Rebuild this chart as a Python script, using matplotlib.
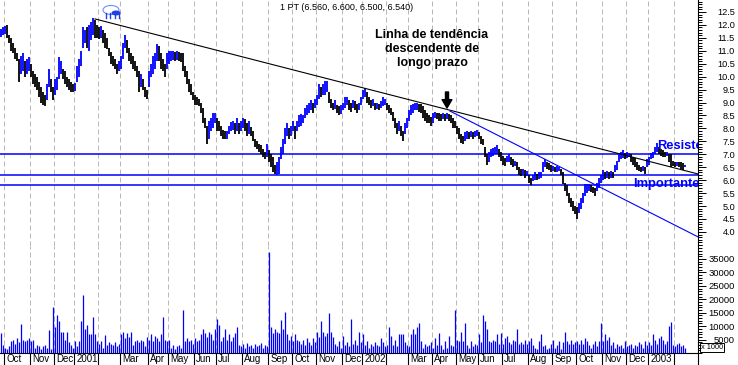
import matplotlib
matplotlib.use('Agg')
import matplotlib.pyplot as plt
import matplotlib.transforms as mtransforms
from matplotlib.lines import Line2D
from matplotlib.patches import Ellipse
from matplotlib.ticker import MultipleLocator, FixedLocator
import numpy as np

plt.rcParams['font.family'] = ['Liberation Sans', 'DejaVu Sans']

# barras de preço (mínimo / máximo), uma barra a cada ~2 pregões
lows = [
    11.55, 11.6, 11.65, 11.5, 11.3, 11.0, 10.9, 10.7, 10.6, 9.8,
    10.1, 10.2, 10.0, 10.1, 10.2, 10.0, 9.7, 9.6, 9.5, 9.2,
    9.0, 8.9, 8.85, 9.1, 9.6, 9.4, 9.1, 9.3, 9.5, 9.9,
    10.1, 9.9, 9.7, 9.6, 9.5, 9.4, 9.4, 9.45, 9.8, 10.0,
    10.4, 11.1, 11.3, 11.1, 11.0, 11.4, 11.6, 11.5, 11.5, 11.45,
    11.5, 11.3, 11.1, 11.05, 10.8, 10.5, 10.4, 10.3, 10.1, 10.2,
    10.3, 10.7, 11.1, 10.9, 10.6, 10.5, 10.3, 10.2, 10.0, 9.4,
    9.6, 9.5, 9.2, 9.15, 9.6, 10.0, 10.1, 10.3, 10.6, 10.6,
    10.3, 10.2, 10.0, 10.3, 10.5, 10.6, 10.65, 10.6, 10.65, 10.6,
    10.55, 10.2, 10.0, 9.7, 9.4, 9.3, 9.1, 8.9, 8.9, 8.85,
    8.6, 8.2, 8.0, 7.4, 7.6, 7.9, 8.0, 8.2, 7.9, 7.9,
    7.7, 7.6, 7.6, 7.6, 7.8, 7.9, 7.95, 7.8, 7.9, 7.8,
    7.9, 8.0, 7.9, 7.7, 7.8, 7.7, 7.5, 7.3, 7.2, 7.1,
    7.0, 6.9, 6.8, 6.9, 6.7, 6.5, 6.3, 6.25, 6.2, 6.25,
    6.8, 7.0, 7.4, 7.7, 7.6, 7.7, 7.9, 7.6, 7.9, 8.05,
    8.1, 8.2, 8.4, 8.5, 8.6, 8.7, 8.6, 8.8, 8.9, 9.15,
    9.2, 9.3, 9.3, 9.4, 9.0, 8.8, 8.7, 8.75, 8.6, 8.5,
    8.55, 8.7, 8.8, 8.9, 8.7, 8.65, 8.8, 8.7, 8.6, 8.7,
    8.9, 9.15, 9.2, 9.0, 8.9, 8.8, 8.85, 8.7, 8.75, 8.7,
    8.8, 8.85, 8.9, 8.7, 8.6, 8.5, 8.3, 8.0, 7.8, 7.9,
    7.7, 7.5, 7.8, 8.0, 8.3, 8.5, 8.6, 8.7, 8.7, 8.65,
    8.6, 8.4, 8.3, 8.2, 8.2, 8.1, 8.2, 8.4, 8.35, 8.3,
    8.3, 8.35, 8.3, 8.35, 8.3, 8.2, 8.0, 8.0, 7.8, 7.6,
    7.45, 7.4, 7.5, 7.6, 7.6, 7.65, 7.6, 7.65, 7.7, 7.6,
    7.4, 7.35, 6.9, 6.6, 6.7, 6.9, 6.95, 7.0, 7.0, 6.9,
    6.75, 6.6, 6.55, 6.7, 6.7, 6.6, 6.5, 6.55, 6.4, 6.2,
    6.15, 6.2, 6.1, 6.15, 5.9, 5.8, 5.95, 6.0, 6.0, 6.05,
    6.1, 6.3, 6.5, 6.45, 6.4, 6.3, 6.35, 6.3, 6.3, 6.35,
    6.2, 5.85, 5.6, 5.4, 5.1, 4.95, 4.8, 4.7, 4.5, 4.75,
    4.9, 5.1, 5.4, 5.5, 5.6, 5.55, 5.5, 5.4, 5.6, 5.7,
    5.9, 6.0, 6.05, 6.1, 6.05, 6.1, 6.1, 6.3, 6.4, 6.7,
    6.8, 6.85, 6.8, 6.85, 6.9, 6.7, 6.6, 6.5, 6.4, 6.35,
    6.3, 6.35, 6.25, 6.5, 6.6, 6.8, 6.85, 7.0, 7.1, 7.0,
    6.95, 6.9, 6.9, 6.95, 6.7, 6.5, 6.55, 6.5, 6.55, 6.5,
    6.45, 6.4, 6.5,
]
highs = [
    11.85, 11.9, 11.95, 12.0, 11.6, 11.5, 11.3, 11.1, 10.9, 10.7,
    10.8, 10.9, 10.6, 10.7, 10.75, 10.5, 10.2, 10.1, 10.0, 9.8,
    9.6, 9.4, 9.3, 9.7, 10.3, 9.9, 9.6, 9.9, 10.0, 10.75,
    10.6, 10.3, 10.2, 10.0, 9.9, 9.8, 9.7, 9.75, 10.4, 10.7,
    11.0, 11.9, 11.8, 11.9, 12.0, 12.1, 12.25, 12.2, 12.0, 11.9,
    11.95, 11.8, 11.7, 11.5, 11.1, 10.95, 10.8, 10.7, 10.5, 10.6,
    10.8, 11.3, 11.6, 11.4, 11.1, 10.9, 10.8, 10.6, 10.4, 10.2,
    10.1, 9.9, 9.6, 9.5, 10.2, 10.5, 10.8, 10.9, 11.25, 11.2,
    10.9, 10.7, 10.5, 10.9, 11.0, 11.0, 11.0, 10.95, 11.0, 10.95,
    10.9, 10.9, 10.4, 10.2, 9.9, 9.7, 9.4, 9.3, 9.2, 9.15,
    9.0, 8.8, 8.4, 8.1, 8.3, 8.4, 8.6, 8.6, 8.4, 8.3,
    8.1, 7.95, 7.9, 7.9, 8.1, 8.25, 8.3, 8.2, 8.4, 8.2,
    8.3, 8.4, 8.35, 8.2, 8.3, 8.05, 7.9, 7.6, 7.5, 7.4,
    7.35, 7.2, 7.1, 7.4, 7.15, 7.0, 6.9, 6.6, 6.7, 6.9,
    7.3, 7.6, 8.0, 8.2, 8.0, 8.1, 8.3, 8.1, 8.3, 8.5,
    8.55, 8.5, 8.8, 8.9, 9.0, 9.1, 9.0, 9.15, 9.3, 9.7,
    9.6, 9.7, 9.85, 9.85, 9.4, 9.15, 9.0, 9.1, 8.9, 8.85,
    8.9, 9.0, 9.2, 9.2, 9.1, 9.0, 9.1, 9.05, 8.95, 9.0,
    9.2, 9.5, 9.55, 9.4, 9.2, 9.1, 9.15, 9.0, 9.0, 8.95,
    9.05, 9.2, 9.15, 9.0, 8.9, 8.8, 8.65, 8.4, 8.2, 8.3,
    8.1, 7.9, 8.2, 8.4, 8.7, 8.9, 8.95, 9.0, 9.0, 8.95,
    8.95, 8.85, 8.7, 8.6, 8.5, 8.45, 8.6, 8.65, 8.6, 8.6,
    8.55, 8.6, 8.55, 8.6, 8.55, 8.5, 8.4, 8.3, 8.1, 8.0,
    7.8, 7.7, 7.85, 7.9, 7.85, 7.9, 7.85, 7.9, 7.95, 7.85,
    7.7, 7.6, 7.3, 7.0, 7.1, 7.2, 7.25, 7.3, 7.35, 7.2,
    7.1, 6.95, 6.85, 6.95, 7.0, 6.9, 6.8, 6.75, 6.7, 6.5,
    6.45, 6.45, 6.4, 6.35, 6.2, 6.1, 6.2, 6.3, 6.25, 6.3,
    6.3, 6.7, 6.8, 6.7, 6.65, 6.6, 6.55, 6.5, 6.55, 6.5,
    6.45, 6.3, 5.9, 5.8, 5.5, 5.3, 5.2, 5.0, 4.95, 5.1,
    5.3, 5.5, 5.85, 5.85, 5.85, 5.8, 5.75, 5.7, 5.9, 6.1,
    6.2, 6.4, 6.3, 6.35, 6.3, 6.35, 6.3, 6.6, 6.75, 7.0,
    7.1, 7.15, 7.05, 7.1, 7.05, 7.0, 6.9, 6.85, 6.7, 6.6,
    6.5, 6.55, 6.5, 6.8, 6.9, 7.05, 7.1, 7.3, 7.45, 7.3,
    7.2, 7.15, 7.1, 7.1, 7.0, 7.0, 6.75, 6.7, 6.7, 6.7,
    6.7, 6.65, 6.6,
]
# volume em milhares
volume_k = [
    7.5, 3.0, 2.0, 1.5, 2.5, 4.5, 5.0, 3.5, 5.7, 4.0,
    10.9, 5.0, 4.5, 5.0, 5.7, 4.5, 5.0, 2.0, 3.0, 2.5,
    1.5, 2.5, 3.0, 2.0, 8.5, 1.5, 17.0, 9.6, 14.0, 11.9,
    7.9, 7.9, 5.0, 7.9, 4.0, 3.0, 2.0, 4.4, 2.5, 4.4,
    12.0, 21.5, 8.8, 10.6, 7.0, 7.0, 13.3, 7.0, 4.4, 3.5,
    4.4, 2.0, 6.7, 3.0, 4.0, 3.5, 3.0, 4.0, 2.5, 3.5,
    7.0, 8.0, 5.5, 7.5, 6.0, 8.0, 3.0, 4.5, 5.0, 4.0,
    5.0, 4.5, 2.5, 6.0, 5.0, 7.0, 4.5, 6.5, 5.5, 4.5,
    7.0, 13.3, 5.0, 4.5, 5.0, 2.0, 3.0, 1.5, 2.5, 3.0,
    2.0, 16.0, 4.5, 5.7, 4.5, 5.0, 3.5, 5.7, 4.5, 5.0,
    7.0, 8.8, 7.5, 6.0, 8.0, 7.0, 5.0, 8.8, 12.6, 10.6,
    4.5, 6.0, 8.8, 5.0, 7.0, 4.5, 6.0, 7.5, 9.6, 3.0,
    2.5, 3.5, 2.0, 3.8, 2.5, 3.0, 2.0, 3.5, 2.5, 3.0,
    3.8, 2.0, 3.0, 2.5, 37.4, 9.6, 7.5, 9.0, 8.0, 7.5,
    12.2, 9.0, 15.2, 7.0, 5.0, 6.5, 4.5, 7.0, 5.0, 4.5,
    3.5, 5.0, 3.0, 5.7, 4.0, 3.0, 5.5, 4.0, 8.0, 6.0,
    11.9, 8.0, 6.5, 7.5, 14.8, 8.0, 6.0, 3.5, 2.5, 4.4,
    2.0, 6.5, 3.0, 4.0, 2.5, 12.6, 3.5, 5.0, 3.0, 8.0,
    4.0, 7.0, 3.0, 4.4, 2.0, 3.5, 2.5, 4.0, 3.0, 2.5,
    5.7, 4.0, 2.5, 3.0, 9.6, 6.5, 3.0, 5.0, 2.5, 7.0,
    7.0, 7.0, 4.0, 3.0, 2.5, 7.0, 8.8, 7.0, 9.6, 11.2,
    4.4, 2.0, 3.5, 2.5, 3.0, 4.0, 2.0, 5.7, 3.0, 7.5,
    3.0, 1.5, 4.4, 2.0, 6.5, 3.0, 2.5, 16.0, 5.0, 4.5,
    8.0, 4.5, 11.2, 3.0, 2.0, 4.4, 2.5, 3.5, 3.0, 7.0,
    4.0, 14.0, 11.9, 9.0, 4.5, 4.0, 5.0, 4.5, 7.2, 3.5,
    7.5, 3.2, 5.5, 6.3, 4.0, 3.5, 5.0, 4.4, 9.1, 3.5,
    4.0, 3.2, 5.0, 3.5, 4.5, 5.7, 3.0, 2.0, 1.5, 4.4,
    7.2, 2.5, 3.0, 1.5, 2.0, 3.5, 5.0, 2.0, 3.0, 4.4,
    1.5, 4.0, 7.9, 4.5, 3.5, 5.0, 3.2, 4.0, 4.5, 3.5,
    5.0, 3.5, 5.4, 4.4, 3.0, 2.0, 3.5, 4.4, 2.5, 4.4,
    11.2, 4.5, 7.2, 5.0, 6.0, 3.0, 4.0, 2.0, 3.5, 2.5,
    3.0, 2.0, 4.4, 2.5, 3.0, 3.5, 2.0, 3.0, 2.5, 4.0,
    3.5, 2.0, 4.4, 3.0, 4.0, 3.0, 7.0, 5.0, 3.2, 5.7,
    6.3, 5.0, 3.5, 4.5, 10.0, 11.6, 3.0, 2.5, 3.2, 3.8,
    2.5, 3.0, 2.0,
]

# início de cada mês (índice da barra) e rótulos do eixo
month_starts = [2, 15, 27, 37, 49, 60, 74, 84, 97, 108, 121, 134, 146, 158, 171,
                181, 193, 204, 216, 228, 239, 251, 264, 276, 288, 301, 313, 324, 337]
month_labels = ['Oct', 'Nov', 'Dec', '2001', '', 'Mar', 'Apr', 'May', 'Jun', 'Jul',
                'Aug', 'Sep', 'Oct', 'Nov', 'Dec', '2002', '', 'Mar', 'Apr', 'May',
                'Jun', 'Jul', 'Aug', 'Sep', 'Oct', 'Nov', 'Dec', '2003', '']

levels = [7.0, 6.2, 5.8]                       # suportes / resistências
long_trend = ([47, 348.5], [12.23, 6.24])      # linha de tendência de longo prazo
short_trend = ([224.5, 348.5], [8.67, 3.81])   # linha de tendência azul

BLUE = '#0000ff'
W, H = 738, 365


def fx(px):
    return px / W


def fy(py):
    return 1 - py / H


fig = plt.figure(figsize=(W / 100, H / 100), dpi=100)
ax = fig.add_axes([0, fy(245.5), fx(698), 245.5 / H])
axv = fig.add_axes([0, fy(353), fx(698), (353 - 245.5) / H])

idx = np.arange(len(lows))
lo = np.array(lows)
hi = np.array(highs)
mid = (lo + hi) / 2
up = np.concatenate([[True], mid[1:] >= mid[:-1]])
colors = np.where(up, BLUE, 'black')

for a in (ax, axv):
    a.set_xlim(-0.5, 348.5)
    for s in ('left', 'top'):
        a.spines[s].set_visible(False)
    a.spines['right'].set_linewidth(0.8)
    for b in month_starts:
        a.axvline(b - 0.5, color='#b8b8b8', lw=0.72, ls=(0, (5, 3)), zorder=0)
ax.spines['bottom'].set_visible(False)
axv.spines['bottom'].set_linewidth(0.8)

# painel de preço
ax.set_ylim(3.476, 12.962)
ax.vlines(idx, lo, hi, colors=colors, lw=1.3, zorder=3)
for lev in levels:
    ax.axhline(lev, color=BLUE, lw=1.1, zorder=2)
ax.plot(long_trend[0], long_trend[1], color='black', lw=0.8, zorder=4)
ax.plot(short_trend[0], short_trend[1], color=BLUE, lw=0.8, zorder=4)

ax.set_xticks([])
ax.yaxis.tick_right()
ax.yaxis.set_major_locator(FixedLocator(np.arange(4.0, 12.51, 0.5)))
ax.yaxis.set_minor_locator(MultipleLocator(0.1))
ax.set_yticklabels([f'{v:.1f}' for v in np.arange(4.0, 12.51, 0.5)])
ax.tick_params(axis='y', which='major', direction='out', length=5.8, width=0.7,
               pad=20.8, labelsize=6.6)
ax.tick_params(axis='y', which='minor', direction='out', length=2.9, width=0.7)
for lab in ax.get_yticklabels():
    lab.set_horizontalalignment('right')

# painel de volume
axv.set_ylim(0, 40000)
axv.vlines(idx, 0, np.array(volume_k) * 1000, colors=BLUE, lw=0.9, zorder=3)
axv.yaxis.tick_right()
vt = np.arange(5000, 35001, 5000)
axv.yaxis.set_major_locator(FixedLocator(vt))
axv.yaxis.set_minor_locator(MultipleLocator(1000))
axv.set_yticklabels([str(v) for v in vt])
axv.tick_params(axis='y', which='major', direction='out', length=5.8, width=0.7,
                pad=20.8, labelsize=6.8)
axv.tick_params(axis='y', which='minor', direction='out', length=2.9, width=0.7)
for lab in axv.get_yticklabels():
    lab.set_horizontalalignment('right')

axv.set_xticks([b - 0.5 for b in month_starts])
axv.set_xticklabels([])
axv.tick_params(axis='x', direction='out', length=8.6, width=0.8)
trans = mtransforms.blended_transform_factory(axv.transData, fig.transFigure)
for b, lab in zip(month_starts, month_labels):
    axv.text(b + 0.6, fy(359.5), lab, transform=trans, fontsize=7,
             ha='left', va='center', clip_on=False)
fig.add_artist(Line2D([fx(698), fx(698)], [fy(353), 0], transform=fig.transFigure,
                      color='black', lw=0.8))
fig.text(fx(712), fy(347.5), 'x 1000', fontsize=5.3, ha='center', va='center',
         bbox=dict(boxstyle='square,pad=0.15', fc='white', ec='black', lw=0.7))

# textos e anotações
fig.text(fx(280), fy(8), '1 PT (6.560, 6.600, 6.500, 6.540)', fontsize=6.5,
         ha='left', va='center')
fig.text(fx(432), fy(49), 'Linha de tendência\ndescendente de\nlongo prazo',
         fontsize=9, fontweight='bold', ha='center', va='center',
         multialignment='center', linespacing=1.25)
ax.annotate('', xy=(fx(447), fy(108)), xytext=(fx(447), fy(92)),
            xycoords='figure fraction', textcoords='figure fraction',
            arrowprops=dict(facecolor='black', edgecolor='black', width=2.2,
                            headwidth=7, headlength=6))
# textos cortados na borda do gráfico, como na imagem original
ax.text(fx(657), fy(146), 'Resiste', transform=fig.transFigure, color=BLUE,
        fontsize=9.3, fontweight='bold', ha='left', va='center', clip_on=True)
ax.text(fx(633), fy(184), 'Importante', transform=fig.transFigure, color=BLUE,
        fontsize=9.3, fontweight='bold', ha='left', va='center', clip_on=True)

# pequeno touro (logotipo)
ident = mtransforms.IdentityTransform()
fig.add_artist(Ellipse((111, H - 10), 16, 9, transform=ident, fill=False,
                       ec='#6f8cff', lw=0.8))
fig.add_artist(Ellipse((116, H - 13), 9, 5, transform=ident, fc='#2040e0',
                       ec='none'))
for lx in (106, 110, 115, 119):
    fig.add_artist(Line2D([lx, lx], [H - 13, H - 18], transform=ident,
                          color='#2040e0', lw=1.0))

fig.savefig('out.png', dpi=100, facecolor='white')
